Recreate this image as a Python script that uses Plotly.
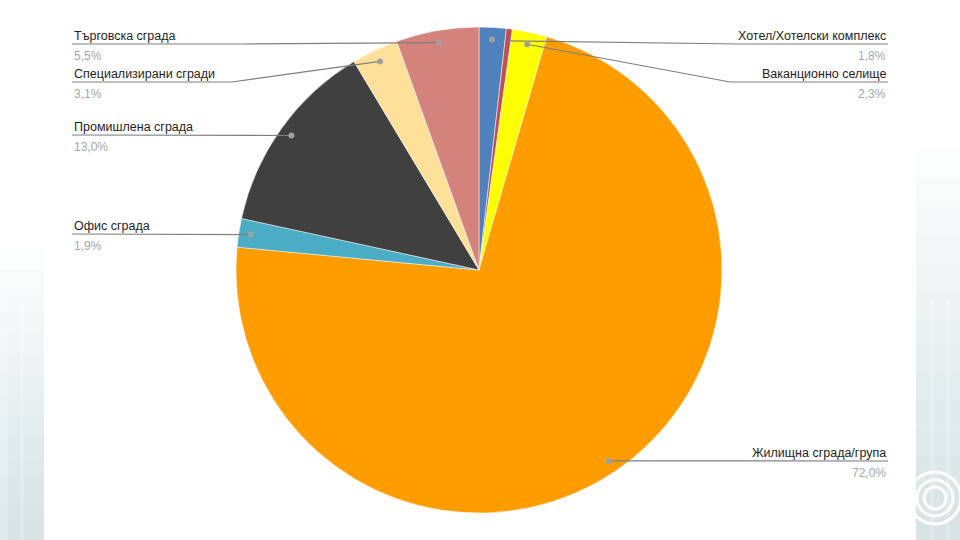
import math
import plotly.graph_objects as go

# ---------------- data ----------------
categories = ["Хотел/Хотелски комплекс", "Друго", "Ваканционно селище",
              "Жилищна сграда/група", "Офис сграда", "Промишлена сграда",
              "Специализирани сгради", "Търговска сграда"]
values = [1.8, 0.4, 2.3, 72.0, 1.9, 13.0, 3.1, 5.5]
colors = ["#4f81bd", "#c0504d", "#ffff00", "#ff9c00", "#4bacc6",
          "#404040", "#ffe09a", "#d4827c"]
show_label = [True, False, True, True, True, True, True, True]

# label layout: side, y of the underline, x of the elbow
label_side = ["right", None, "right", "right", "left", "left", "left", "left"]
label_line_y = [44, None, 82, 461, 234, 135, 82, 44]
label_elbow_x = [740, None, 730, 888, 72, 72, 232, 240]
# slice that each leader line attaches to
anchor_slice = [1, None, 2, 3, 4, 5, 6, 7]

W, H = 960, 540
cx, cy, R = 479, 270, 243
LEFT_X, RIGHT_X = 72, 888
FONT = "Liberation Sans, Arial"

fig = go.Figure()

# background decoration (slide edges)
steps = 14
for i in range(steps):
    y0 = 250 + i * (540 - 250) / steps
    fig.add_shape(type="rect", xref="x", yref="y", x0=0, x1=44, y0=y0, y1=540,
                  fillcolor="#b4b9bf", opacity=0.035, line_width=0, layer="below")
    y0r = 150 + i * (540 - 150) / steps
    fig.add_shape(type="rect", xref="x", yref="y", x0=916, x1=960, y0=y0r, y1=540,
                  fillcolor="#b4b9bf", opacity=0.035, line_width=0, layer="below")
for x0, x1 in [(0, 8), (20, 24), (930, 934), (946, 950)]:
    fig.add_shape(type="rect", xref="x", yref="y", x0=x0, x1=x1, y0=300, y1=540,
                  fillcolor="#ffffff", opacity=0.2, line_width=0, layer="below")
for r in [26, 18, 11]:
    fig.add_shape(type="circle", xref="x", yref="y", x0=935 - r, x1=935 + r,
                  y0=498 - r, y1=498 + r, line=dict(color="#ffffff", width=3),
                  fillcolor="rgba(0,0,0,0)", layer="below")

# pie
dom_x = [(cx - R) / W, (cx + R) / W]
dom_y = [1 - (cy + R) / H, 1 - (cy - R) / H]
fig.add_trace(go.Pie(labels=categories, values=values, sort=False,
                     direction="clockwise", rotation=0,
                     marker=dict(colors=colors, line=dict(color="#ffffff", width=0.5)),
                     textinfo="none", hoverinfo="label+percent",
                     domain=dict(x=dom_x, y=dom_y), showlegend=False))

total = sum(values)
cum = 0
anchors = []
for v in values:
    th = 2 * math.pi * (cum + v / 2) / total
    rho = 0.95 * R
    anchors.append((cx + rho * math.sin(th), cy - rho * math.cos(th)))
    cum += v

for i, name in enumerate(categories):
    if not show_label[i]:
        continue
    ax_, ay_ = anchors[i]
    px, py = anchors[anchor_slice[i]]
    ly = label_line_y[i]
    if label_side[i] == "left":
        tx, anchor = LEFT_X, "left"
    else:
        tx, anchor = RIGHT_X, "right"
    pts = [(tx, ly)]
    if label_elbow_x[i] != tx:
        pts.append((label_elbow_x[i], ly))
    pts.append((px, py))
    path = "M " + " L ".join(f"{x:.2f},{y:.2f}" for x, y in pts)
    fig.add_shape(type="path", xref="x", yref="y", path=path,
                  line=dict(color="#7f7f7f", width=1.2), layer="above")
    fig.add_shape(type="circle", xref="x", yref="y",
                  x0=ax_ - 3, x1=ax_ + 3, y0=ay_ - 3, y1=ay_ + 3,
                  fillcolor="#a0a0a0", line_width=0, layer="above")
    pct = f"{values[i]:.1f}".replace(".", ",") + "%"
    fig.add_annotation(x=tx, y=ly + 1, xref="x", yref="y", text=name,
                       showarrow=False, xanchor=anchor, yanchor="bottom",
                       font=dict(family=FONT, size=12.5, color="#1e1e1e"))
    fig.add_annotation(x=tx, y=ly + 3, xref="x", yref="y", text=pct,
                       showarrow=False, xanchor=anchor, yanchor="top",
                       font=dict(family=FONT, size=12, color="#a6a6a6"))

fig.update_layout(
    width=W, height=H, margin=dict(l=0, r=0, t=0, b=0),
    paper_bgcolor="#ffffff", plot_bgcolor="rgba(0,0,0,0)",
    xaxis=dict(range=[0, W], visible=False, domain=[0, 1], fixedrange=True),
    yaxis=dict(range=[H, 0], visible=False, domain=[0, 1], fixedrange=True),
)

fig.write_html("out.html", config={"displayModeBar": False},
               post_script="document.body.style.margin='0';document.body.style.padding='0';")
